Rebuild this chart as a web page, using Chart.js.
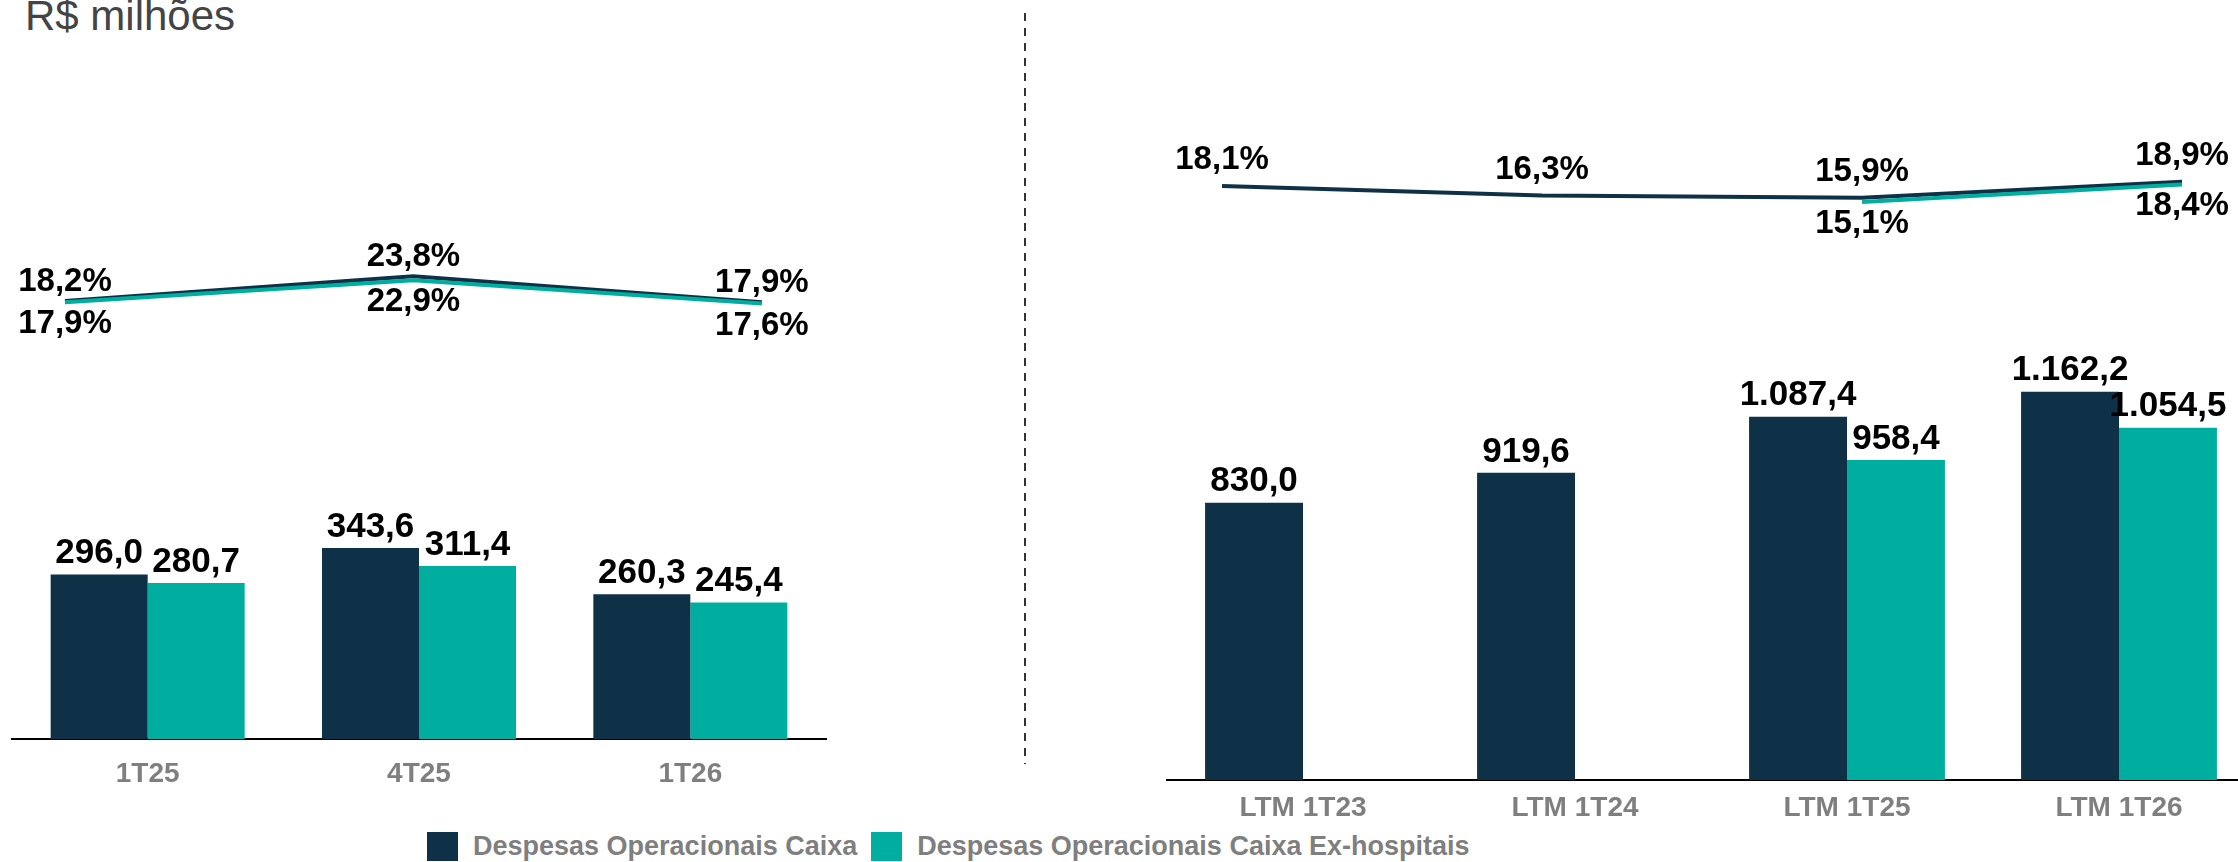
<!DOCTYPE html>
<html lang="pt-BR">
<head>
<meta charset="utf-8">
<title>Despesas Operacionais Caixa</title>
<script src="https://cdn.jsdelivr.net/npm/chart.js@4.4.1/dist/chart.umd.min.js"></script>
<style>
  html, body { margin: 0; padding: 0; background: #fff; overflow: hidden; }
  body { width: 2238px; height: 862px; position: relative; font-family: "Liberation Sans", Arial, sans-serif; }
  canvas { position: absolute; top: 0; }
  #leftBars, #leftLines { left: 0; }
  #rightBars, #rightLines { left: 1155px; }
  .unit { position: absolute; left: 25px; top: -5px; font-size: 42px; line-height: 42px; color: #444; }
  .divider {
    position: absolute; left: 1024px; top: 13px; width: 2px; height: 751px;
    background: repeating-linear-gradient(to bottom, #333 0 8px, transparent 8px 15px);
  }
  .legend { position: absolute; left: 427px; top: 831px; display: flex; align-items: center; }
  .legend .item { display: flex; align-items: center; margin-right: 14px; }
  .legend .box { width: 31px; height: 29px; margin-right: 15px; }
  .legend .txt { font-weight: bold; font-size: 27px; color: #7f7f7f; white-space: nowrap; }
</style>
</head>
<body>
<div class="unit">R$ milhões</div>
<div class="divider"></div>
<canvas id="leftBars" width="838" height="789"></canvas>
<canvas id="leftLines" width="838" height="789"></canvas>
<canvas id="rightBars" width="1112" height="830"></canvas>
<canvas id="rightLines" width="1112" height="830"></canvas>
<div class="legend" id="legend"></div>

<script>
// series names / colours
const seriesNames = ['Despesas Operacionais Caixa', 'Despesas Operacionais Caixa Ex-hospitais'];
const seriesColors = ['#0E3147', '#00AE9F'];

// quarterly panel (R$ milhões and % margin)
const quarterLabels = ['1T25', '4T25', '1T26'];
const quarterCaixa = [296.0, 343.6, 260.3];
const quarterExHosp = [280.7, 311.4, 245.4];
const quarterPctCaixa = [18.2, 23.8, 17.9];
const quarterPctExHosp = [17.9, 22.9, 17.6];

// LTM panel
const ltmLabels = ['LTM 1T23', 'LTM 1T24', 'LTM 1T25', 'LTM 1T26'];
const ltmCaixa = [830.0, 919.6, 1087.4, 1162.2];
const ltmExHosp = [null, null, 958.4, 1054.5];
const ltmPctCaixa = [18.1, 16.3, 15.9, 18.9];
const ltmPctExHosp = [null, null, 15.1, 18.4];

const FONT = '"Liberation Sans", Arial, sans-serif';

// 1234.5 -> "1.234,5"
function fmtNum(v) {
  const parts = v.toFixed(1).split('.');
  parts[0] = parts[0].replace(/\B(?=(\d{3})+(?!\d))/g, '.');
  return parts.join(',');
}
function fmtPct(v) {
  return v.toFixed(1).replace('.', ',') + '%';
}

// draws the value labels above bars and around line points
const valueLabels = {
  id: 'valueLabels',
  afterDatasetsDraw(chart) {
    const ctx = chart.ctx;
    ctx.save();
    ctx.fillStyle = '#000';
    ctx.textAlign = 'center';
    ctx.textBaseline = 'middle';
    chart.data.datasets.forEach((ds, i) => {
      const meta = chart.getDatasetMeta(i);
      ctx.font = 'bold ' + (ds.isPct ? 33 : 35) + 'px ' + FONT;
      meta.data.forEach((el, j) => {
        const raw = ds.data[j];
        const v = raw && typeof raw === 'object' ? raw.y : raw;
        if (v === null || v === undefined) return;
        const txt = ds.isPct ? fmtPct(v) : fmtNum(v);
        ctx.fillText(txt, el.x, el.y + ds.labelOffset);
      });
    });
    ctx.restore();
  }
};

function makeBars(canvasId, p) {
  const ctx = document.getElementById(canvasId);
  return new Chart(ctx, {
    type: 'bar',
    data: {
      labels: p.labels,
      datasets: [
        {
          label: seriesNames[0], data: p.caixa, backgroundColor: seriesColors[0],
          categoryPercentage: p.catPct, barPercentage: 1, labelOffset: -21,
        },
        {
          label: seriesNames[1], data: p.exHosp, backgroundColor: seriesColors[1],
          categoryPercentage: p.catPct, barPercentage: 1, labelOffset: -21,
        },
      ],
    },
    options: {
      responsive: false,
      animation: false,
      devicePixelRatio: 1,
      layout: { padding: { left: 12, right: 12, top: p.top, bottom: 0 } },
      plugins: { legend: { display: false }, tooltip: { enabled: false } },
      scales: {
        x: {
          grid: { display: false, drawTicks: false },
          border: { display: true, color: '#000', width: 2 },
          ticks: { color: '#7f7f7f', font: { family: FONT, size: 28, weight: 'bold' }, padding: p.tickPad },
          afterFit: (s) => { s.height = 50; },
        },
        y: { display: false, min: 0, max: p.ymax },
      },
    },
    plugins: [valueLabels],
  });
}

// margin lines sit on their own canvas, same chart area as the bars
function makeLines(canvasId, p) {
  const ctx = document.getElementById(canvasId);
  const pts = (arr) => arr.map((v, i) => ({ x: i, y: v }));
  return new Chart(ctx, {
    type: 'line',
    data: {
      datasets: [
        {
          label: seriesNames[1] + ' %', data: pts(p.pctExHosp), borderColor: seriesColors[1],
          borderWidth: 4, pointRadius: 0, fill: false, clip: false, isPct: true, labelOffset: p.lowOffset,
        },
        {
          label: seriesNames[0] + ' %', data: pts(p.pctCaixa), borderColor: seriesColors[0],
          borderWidth: 4, pointRadius: 0, fill: false, clip: false, isPct: true, labelOffset: p.highOffset,
        },
      ],
    },
    options: {
      responsive: false,
      animation: false,
      devicePixelRatio: 1,
      layout: { padding: { left: 12, right: 12, top: p.top, bottom: 50 } },
      plugins: { legend: { display: false }, tooltip: { enabled: false } },
      scales: {
        x: { type: 'linear', display: false, offset: false, min: p.x2min, max: p.x2max },
        y: { display: false, min: p.y2min, max: p.y2max },
      },
    },
    plugins: [valueLabels],
  });
}

const leftPanel = {
  labels: quarterLabels, caixa: quarterCaixa, exHosp: quarterExHosp,
  pctCaixa: quarterPctCaixa, pctExHosp: quarterPctExHosp,
  top: 72, ymax: 1200, y2min: -81.36, y2max: 70.23, tickPad: 18,
  x2min: -0.152, x2max: 2.184, catPct: 0.715, highOffset: -19, lowOffset: 22,
};
const rightPanel = {
  labels: ltmLabels, caixa: ltmCaixa, exHosp: ltmExHosp,
  pctCaixa: ltmPctCaixa, pctExHosp: ltmPctExHosp,
  top: 112, ymax: 2000, y2min: -93.98, y2max: 32.06, tickPad: 11,
  x2min: -0.172, x2max: 3.228, catPct: 0.72, highOffset: -26, lowOffset: 22,
};

makeBars('leftBars', leftPanel);
makeLines('leftLines', leftPanel);
makeBars('rightBars', rightPanel);
makeLines('rightLines', rightPanel);

// legend
const legend = document.getElementById('legend');
seriesNames.forEach((name, i) => {
  const item = document.createElement('div');
  item.className = 'item';
  item.innerHTML = '<div class="box" style="background:' + seriesColors[i] + '"></div>' +
    '<div class="txt">' + name + '</div>';
  legend.appendChild(item);
});
</script>
</body>
</html>
